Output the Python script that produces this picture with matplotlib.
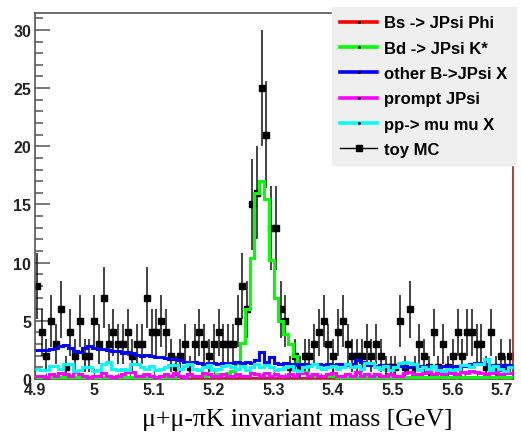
import numpy as np
import matplotlib
matplotlib.use("Agg")
import matplotlib.pyplot as plt
from matplotlib.lines import Line2D
from matplotlib.ticker import MultipleLocator
from matplotlib.font_manager import FontProperties

# binning of the mass histograms
m_lo, m_hi, n_bins = 4.9, 5.7, 100

# toy MC counts per bin
toy_mc = [8, 4, 2, 5, 3, 6, 1, 4, 2, 5,
          2, 2, 5, 3, 7, 3, 4, 3, 3, 4,
          2, 3, 3, 7, 4, 4, 5, 4, 2, 1,
          2, 3, 1, 3, 4, 3, 2, 3, 4, 3,
          3, 3, 5, 8, 6, 15, 16, 25, 21, 13,
          13, 6, 5, 1, 2, 1, 2, 2, 3, 4,
          5, 3, 2, 4, 5, 3, 2, 2, 2, 3,
          2, 3, 2, 1, 1, 1, 5, 1, 6, 1,
          3, 2, 1, 4, 1, 3, 1, 2, 4, 2,
          4, 4, 3, 3, 1, 4, 1, 2, 1, 2]

# expected contributions
bs_jpsi_phi = [0.05, 0.04, 0.06, 0.05, 0.03, 0.05, 0.06, 0.04, 0.05, 0.05,
               0.04, 0.05, 0.06, 0.05, 0.04, 0.05, 0.05, 0.06, 0.04, 0.05,
               0.05, 0.04, 0.06, 0.05, 0.05, 0.04, 0.05, 0.06, 0.05, 0.04,
               0.05, 0.05, 0.06, 0.04, 0.05, 0.05, 0.04, 0.06, 0.05, 0.05,
               0.06, 0.05, 0.07, 0.08, 0.09, 0.10, 0.11, 0.10, 0.09, 0.08,
               0.08, 0.07, 0.06, 0.05, 0.05, 0.04, 0.05, 0.06, 0.05, 0.04,
               0.05, 0.05, 0.04, 0.06, 0.05, 0.05, 0.04, 0.05, 0.06, 0.05,
               0.04, 0.05, 0.05, 0.06, 0.04, 0.05, 0.05, 0.04, 0.06, 0.05,
               0.05, 0.04, 0.05, 0.06, 0.05, 0.04, 0.05, 0.05, 0.06, 0.04,
               0.05, 0.05, 0.04, 0.06, 0.05, 0.05, 0.04, 0.05, 0.06, 0.05]

bd_jpsi_kstar = [0.15, 0.12, 0.14, 0.16, 0.13, 0.15, 0.14, 0.12, 0.16, 0.15,
                 0.13, 0.15, 0.14, 0.16, 0.15, 0.13, 0.14, 0.16, 0.15, 0.14,
                 0.15, 0.16, 0.14, 0.15, 0.17, 0.16, 0.18, 0.17, 0.19, 0.20,
                 0.22, 0.21, 0.23, 0.25, 0.27, 0.30, 0.32, 0.35, 0.40, 0.45,
                 0.55, 0.70, 1.4, 3.1, 6.0, 10.4, 16.0, 17.0, 15.5, 10.2,
                 7.0, 5.0, 3.9, 3.0, 2.0, 1.2, 0.6, 0.35, 0.30, 0.27,
                 0.25, 0.24, 0.22, 0.21, 0.20, 0.19, 0.18, 0.18, 0.17, 0.16,
                 0.16, 0.15, 0.14, 0.15, 0.16, 0.15, 0.14, 0.15, 0.13, 0.14,
                 0.15, 0.14, 0.13, 0.15, 0.14, 0.13, 0.14, 0.15, 0.13, 0.14,
                 0.13, 0.15, 0.14, 0.13, 0.14, 0.15, 0.13, 0.14, 0.13, 0.14]

other_b_jpsi = [2.5, 2.5, 2.5, 2.6, 2.7, 2.8, 2.9, 2.7, 2.4, 2.3,
                2.7, 2.8, 2.7, 2.6, 2.6, 2.5, 2.4, 2.4, 2.2, 2.3,
                2.2, 2.1, 2.0, 2.1, 2.0, 1.9, 1.9, 1.8, 1.7, 1.7,
                1.6, 1.5, 1.4, 1.5, 1.4, 1.3, 1.4, 1.4, 1.3, 1.4,
                1.3, 1.4, 1.5, 1.4, 1.5, 1.4, 1.6, 2.3, 1.5, 1.9,
                1.4, 1.3, 1.4, 1.3, 1.3, 1.2, 1.3, 1.2, 1.3, 1.3,
                1.2, 1.3, 1.2, 1.3, 1.3, 1.2, 1.3, 1.6, 1.5, 1.2,
                1.2, 1.1, 1.2, 1.1, 1.1, 1.0, 1.1, 1.0, 1.0, 1.1,
                1.1, 1.0, 1.1, 1.1, 1.0, 1.1, 1.1, 1.0, 1.1, 1.1,
                1.1, 1.3, 1.4, 1.4, 1.3, 1.2, 1.2, 1.1, 1.2, 1.2]

prompt_jpsi = [0.3, 0.3, 0.2, 0.4, 0.3, 0.5, 0.4, 0.3, 0.6, 0.4,
               0.3, 0.2, 0.3, 0.3, 0.5, 0.3, 0.2, 0.3, 0.4, 0.6,
               0.6, 0.3, 0.3, 0.4, 0.3, 0.2, 0.3, 0.4, 0.3, 0.5,
               0.3, 0.2, 0.4, 0.3, 0.3, 0.5, 0.4, 0.3, 0.3, 0.4,
               0.3, 0.3, 0.4, 0.3, 0.3, 0.5, 0.4, 0.3, 0.5, 0.3,
               0.4, 0.3, 0.3, 0.4, 0.3, 0.5, 0.5, 0.3, 0.4, 0.3,
               0.3, 0.4, 0.5, 0.3, 0.3, 0.4, 0.3, 0.6, 0.3, 0.4,
               0.3, 0.4, 0.3, 0.3, 0.4, 0.3, 0.3, 0.5, 0.6, 0.4,
               0.4, 0.5, 0.6, 0.4, 0.5, 0.4, 0.6, 0.5, 0.4, 0.6,
               0.5, 0.7, 0.6, 0.5, 0.4, 0.5, 0.6, 0.4, 0.5, 0.5]

pp_mumu_x = [0.9, 0.8, 0.8, 1.1, 1.1, 0.9, 1.3, 1.3, 0.7, 0.8,
             1.0, 1.0, 0.7, 0.8, 1.3, 1.5, 0.9, 0.8, 0.9, 0.8,
             1.3, 1.3, 1.0, 0.9, 1.1, 0.8, 0.9, 1.0, 1.2, 1.2,
             0.9, 1.1, 1.3, 0.9, 0.8, 1.0, 1.2, 0.8, 0.9, 1.1,
             1.2, 1.0, 0.9, 1.1, 0.8, 1.0, 1.3, 1.0, 1.2, 1.0,
             0.8, 0.9, 1.0, 1.1, 0.8, 0.7, 1.0, 1.1, 1.3, 1.0,
             0.9, 1.0, 1.1, 0.9, 1.0, 1.3, 1.0, 1.1, 0.9, 1.4,
             1.4, 1.0, 0.9, 1.1, 0.8, 1.0, 1.4, 1.5, 1.4, 1.3,
             0.8, 1.0, 0.9, 1.1, 0.8, 0.7, 0.9, 0.8, 0.9, 1.2,
             1.2, 1.0, 1.3, 1.3, 1.7, 0.8, 1.1, 0.9, 0.7, 1.0]

labels = ["Bs -> JPsi Phi", "Bd -> JPsi K*", "other B->JPsi X",
          "prompt JPsi", "pp-> mu mu X", "toy MC"]
colors = ["#ff0000", "#00ff00", "#0000ff", "#ff00ff", "#00ffff"]
xtick_labels = ["4.9", "5", "5.1", "5.2", "5.3", "5.4", "5.5", "5.6", "5.7"]
ytick_labels = ["0", "5", "10", "15", "20", "25", "30"]

edges = np.linspace(m_lo, m_hi, n_bins + 1)
centers = 0.5 * (edges[:-1] + edges[1:])
counts = np.array(toy_mc, dtype=float)

W, H = 521, 435
fig = plt.figure(figsize=(W / 100, H / 100), dpi=100)
ax = fig.add_axes([34.5 / W, 55 / H, 478 / W, 366 / H])

ax.errorbar(centers, counts, yerr=np.sqrt(counts), fmt="s", ms=4.2,
            color="k", ecolor="#111111", elinewidth=1.1, capsize=0, zorder=2)

series = [bs_jpsi_phi, bd_jpsi_kstar, other_b_jpsi, prompt_jpsi, pp_mumu_x]
for i in [0, 1, 3, 2, 4]:
    ax.stairs(series[i], edges, color=colors[i], lw=2.2, baseline=None, zorder=3)

ax.set_xlim(m_lo, m_hi)
ax.set_ylim(0, 31.45)
ax.xaxis.set_minor_locator(MultipleLocator(0.02))
ax.yaxis.set_minor_locator(MultipleLocator(1))
ax.set_xticks(np.linspace(m_lo, m_hi, len(xtick_labels)))
ax.set_xticklabels(xtick_labels)
ax.set_yticks(np.arange(0, 31, 5))
ax.set_yticklabels(ytick_labels)

ax.tick_params(axis="y", which="major", direction="in", length=10.8, width=1.1,
               color="#555555", pad=2.5)
ax.tick_params(axis="y", which="minor", direction="in", length=5.8, width=1.1,
               color="#555555")
ax.tick_params(axis="x", which="major", direction="in", length=8, width=1.0,
               color="#555555", pad=2)
ax.tick_params(axis="x", which="minor", direction="in", length=4, width=1.0,
               color="#555555")
tick_font = FontProperties(family="Liberation Sans", weight="bold", size=11.5)
for lab in ax.get_xticklabels() + ax.get_yticklabels():
    lab.set_fontproperties(tick_font)
    lab.set_color("#222222")
ax.get_xticklabels()[-1].set_horizontalalignment("right")
ax.get_xticklabels()[-1].set_x(m_hi + 0.012)

for side in ["left", "top", "bottom"]:
    ax.spines[side].set_color("#555555")
    ax.spines[side].set_linewidth(1.2)
ax.spines["right"].set_color("#a83232")
ax.spines["right"].set_linewidth(1.3)

fig.text(297.5 / W, 1 - 420 / H, "μ+μ-πK invariant mass [GeV]",
         family="Liberation Serif", size=18.5, ha="center", va="center")

handles = [Line2D([], [], color=c, lw=2.6, marker="s", ms=1.0,
                  mfc="k", mec="k") for c in colors]
handles.append(Line2D([], [], color="k", lw=1.0, marker="s", ms=4.2))
fig.legend(handles, labels, loc="upper left",
           bbox_to_anchor=(332 / W, 1 - 8 / H), borderaxespad=0,
           prop=dict(family="Liberation Sans", weight="bold", size=12),
           facecolor="#efefef", edgecolor="#efefef", framealpha=1,
           fancybox=False, handlelength=2.2, handletextpad=0.45,
           labelspacing=0.62, borderpad=0.5)

fig.savefig("out.png", dpi=100)
